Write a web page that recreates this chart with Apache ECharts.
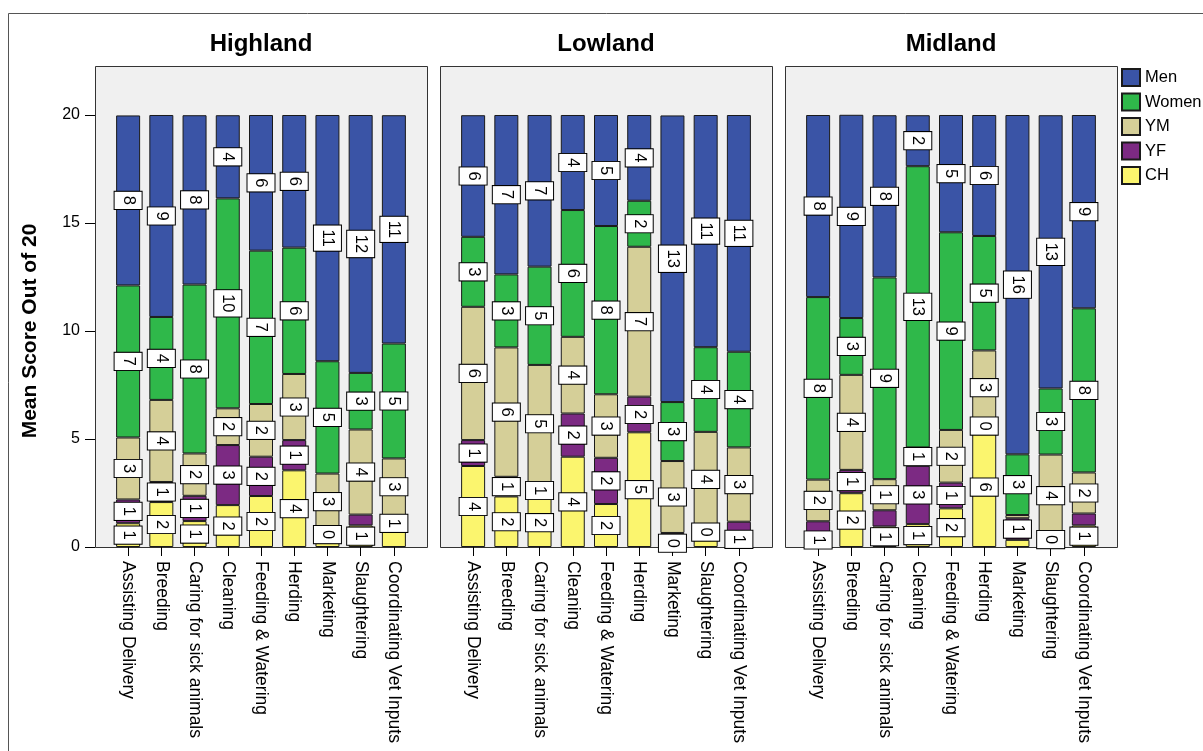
<!DOCTYPE html>
<html>
<head>
<meta charset="utf-8">
<script src="https://cdn.jsdelivr.net/npm/echarts@6/dist/echarts.min.js"></script>
<style>
html,body{margin:0;padding:0;background:#fff;}
#chart{width:1203px;height:751px;}
</style>
</head>
<body>
<div id="chart"></div>
<script>
// ---- data ----
const categories = ['Assisting Delivery','Breeding','Caring for sick animals','Cleaning','Feeding & Watering','Herding','Marketing','Slaughtering','Coordinating Vet Inputs'];
const regions = ['Highland','Lowland','Midland'];
const groups = ['Men','Women','YM','YF','CH'];
const yTicks = [0, 5, 10, 15, 20];

const highlandMen   = [7.87, 9.35, 7.84, 3.85, 6.28, 6.14, 11.40, 11.94, 10.57];
const highlandWomen = [7.04, 3.84, 7.82, 9.72, 7.10, 5.85, 5.20, 2.62, 5.32];
const highlandYM    = [2.87, 3.80, 1.96, 1.70, 2.44, 3.06, 2.60, 3.94, 2.62];
const highlandYF    = [1.10, 0.93, 1.17, 2.78, 1.82, 1.40, 0.45, 0.50, 0.77];
const highlandCH    = [1.10, 2.08, 1.20, 1.94, 2.36, 3.55, 0.35, 1.00, 0.71];

const lowlandMen   = [5.63, 7.38, 7.02, 4.40, 5.14, 3.97, 13.27, 10.75, 10.96];
const lowlandWomen = [3.24, 3.38, 4.55, 5.87, 7.79, 2.13, 2.73, 3.92, 4.43];
const lowlandYM    = [6.17, 5.99, 5.45, 3.55, 2.94, 6.94, 3.33, 4.40, 3.44];
const lowlandYF    = [1.20, 0.91, 0.73, 2.00, 2.14, 1.65, 0.30, 0.48, 0.46];
const lowlandCH    = [3.75, 2.34, 2.25, 4.18, 1.99, 5.31, 0.35, 0.45, 0.71];

const midlandMen   = [8.43, 9.41, 7.51, 2.36, 5.43, 5.60, 15.71, 12.65, 8.95];
const midlandWomen = [8.45, 2.63, 9.34, 13.02, 9.15, 5.30, 2.81, 3.06, 7.60];
const midlandYM    = [1.93, 4.40, 1.44, 0.85, 2.44, 3.45, 0.15, 3.81, 1.90];
const midlandYF    = [0.54, 1.08, 0.75, 2.70, 1.19, 0.10, 1.00, 0.25, 0.55];
const midlandCH    = [0.65, 2.49, 0.95, 1.06, 1.79, 5.55, 0.33, 0.22, 1.00];

// ---- styling / layout ----
const colors = {Men:'#3a54a6', Women:'#2fb84a', YM:'#d5cf98', YF:'#7c2a83', CH:'#fbf56e'};
const regionData = [
  {Men:highlandMen, Women:highlandWomen, YM:highlandYM, YF:highlandYF, CH:highlandCH},
  {Men:lowlandMen,  Women:lowlandWomen,  YM:lowlandYM,  YF:lowlandYF,  CH:lowlandCH},
  {Men:midlandMen,  Women:midlandWomen,  YM:midlandYM,  YF:midlandYF,  CH:midlandCH}
];
const panelLeft = [95, 440, 785];
const panelW = 332, panelTop = 66.5, axisY = 547, plotTop = 115;
const inset = 16.5;
const font = 'Liberation Sans, Arial, sans-serif';

const grids = [], xAxes = [], yAxes = [], series = [], titles = [], graphics = [];

graphics.push({type:'rect', z:-10, shape:{x:8.5, y:13.5, width:1400, height:1000},
  style:{fill:'#fff', stroke:'#555', lineWidth:1}});

regions.forEach((reg, r) => {
  const L = panelLeft[r];
  graphics.push({type:'rect', z:-5, shape:{x:L+0.5, y:panelTop, width:panelW, height:axisY - panelTop + 0.5},
    style:{fill:'#f0f0f0', stroke:'#333', lineWidth:1}});
  titles.push({text:reg, left:L + panelW/2, top:32, textAlign:'center', padding:0,
    textStyle:{fontFamily:font, fontWeight:'bold', fontSize:24, color:'#000'}});
  grids.push({left:L + inset, width:panelW - 2*inset, top:plotTop, height:axisY - plotTop});
  xAxes.push({type:'category', gridIndex:r, data:categories,
    axisLine:{show:false},
    axisTick:{show:true, alignWithLabel:true, length:9, lineStyle:{color:'#000', width:1}},
    axisLabel:{interval:0, rotate:-90, margin:14, fontSize:17.5, color:'#000', fontFamily:font}});
  if (r === 0) {
    yAxes.push({type:'value', gridIndex:r, min:yTicks[0], max:yTicks[yTicks.length-1], interval:yTicks[1]-yTicks[0],
      offset:inset,
      name:'Mean Score Out of 20', nameLocation:'middle', nameGap:54,
      nameTextStyle:{fontFamily:font, fontWeight:'bold', fontSize:21, color:'#000'},
      axisLine:{show:true, lineStyle:{color:'#333'}},
      axisTick:{show:true, length:10, lineStyle:{color:'#000'}},
      axisLabel:{fontSize:16, color:'#000', margin:15, fontFamily:font},
      splitLine:{show:false}});
  } else {
    yAxes.push({type:'value', gridIndex:r, min:0, max:20, show:false, splitLine:{show:false}});
  }
  ['CH','YF','YM','Women','Men'].forEach(g => {
    series.push({
      type:'bar', name:g, stack:'s'+r, xAxisIndex:r, yAxisIndex:r,
      data:regionData[r][g], barWidth:24,
      itemStyle:{color:colors[g], borderColor:'#1a1a1a', borderWidth:1},
      label:{show:true, position:'inside', rotate:-90,
        formatter:p => String(Math.round(p.value)),
        fontFamily:font, fontSize:16.5, lineHeight:17, color:'#000',
        backgroundColor:'#fff', borderColor:'#000', borderWidth:1, padding:[5,4,5,4]},
      labelLayout:{hideOverlap:true},
      emphasis:{disabled:true}
    });
  });
});

const chart = echarts.init(document.getElementById('chart'));
chart.setOption({
  backgroundColor:'#fff',
  animation:false,
  title:titles,
  legend:{data:groups, orient:'vertical', left:1121, top:68, itemWidth:18, itemHeight:17, itemGap:5.5,
    icon:'rect', padding:0,
    textStyle:{fontFamily:font, fontSize:16.5, lineHeight:17, color:'#000'}},
  grid:grids, xAxis:xAxes, yAxis:yAxes, series:series,
  graphic:graphics
});
</script>
</body>
</html>
